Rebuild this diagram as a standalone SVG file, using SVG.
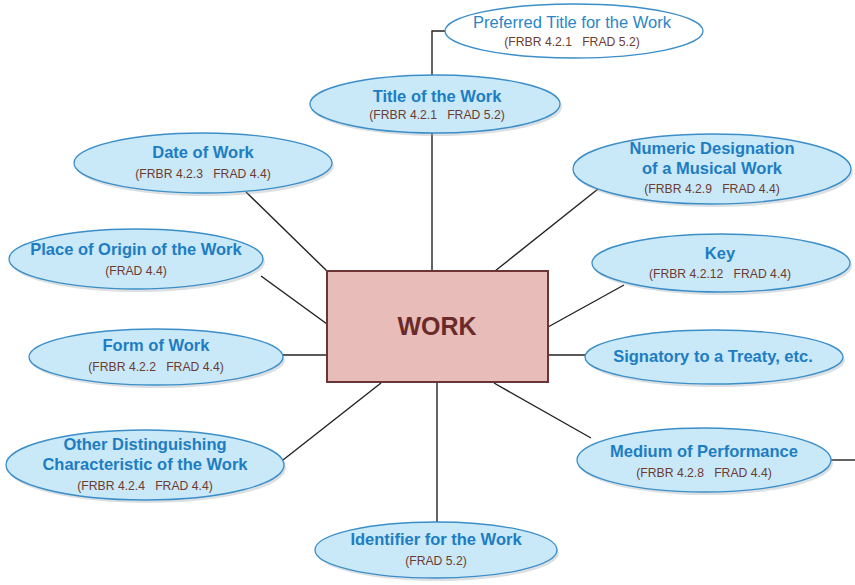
<svg xmlns="http://www.w3.org/2000/svg" width="855" height="585" viewBox="0 0 855 585">
<defs>
<style>
.el{fill:#c9e8f8;stroke:#3b8ec8;stroke-width:1.3}
.sh{fill:#9aa7b0;opacity:0.35}
.t{font-family:"Liberation Sans",Arial,sans-serif;font-size:16.5px;font-weight:bold;fill:#1d7dc2;text-anchor:middle}
.tr{font-family:"Liberation Sans",Arial,sans-serif;font-size:16.5px;fill:#2a86c6;text-anchor:middle}
.s{font-family:"Liberation Sans",Arial,sans-serif;font-size:12.2px;fill:#6e3b30;text-anchor:middle;white-space:pre}
.c{stroke:#222;stroke-width:1.4;fill:none}
</style>
</defs>
<rect width="855" height="585" fill="#fff"/>
<g id="connectors">
<polyline class="c" points="432,76 432,31 446,31"/>
<line class="c" x1="432" y1="133" x2="432" y2="271"/>
<line class="c" x1="246" y1="192" x2="328" y2="272"/>
<line class="c" x1="261" y1="276" x2="327" y2="324"/>
<line class="c" x1="282" y1="355" x2="327" y2="355"/>
<line class="c" x1="283" y1="460" x2="381" y2="383"/>
<line class="c" x1="437" y1="383" x2="437" y2="522"/>
<line class="c" x1="494" y1="383" x2="591" y2="438"/>
<line class="c" x1="548" y1="355" x2="586" y2="355"/>
<line class="c" x1="548" y1="327" x2="624" y2="285"/>
<line class="c" x1="495" y1="271" x2="598" y2="189"/>
<line class="c" x1="831" y1="460" x2="855" y2="460"/>
</g>
<g id="work">
<rect x="327" y="271" width="221" height="111" fill="#e8bcb8" stroke="#6b3535" stroke-width="2"/>
<text x="437" y="335" font-family="Liberation Sans,Arial,sans-serif" font-size="25" font-weight="bold" fill="#6b2a2a" text-anchor="middle">WORK</text>
</g>
<g id="preferred-title">
<ellipse cx="574" cy="31" rx="129" ry="27" fill="#fff" stroke="#3b8ec8" stroke-width="1.3"/>
<text class="tr" x="572" y="28">Preferred Title for the Work</text>
<text class="s" x="572" y="46">(FRBR 4.2.1   FRAD 5.2)</text>
</g>
<g id="title">
<ellipse class="sh" cx="437" cy="107" rx="125" ry="29"/>
<ellipse class="el" cx="435" cy="104" rx="125" ry="29"/>
<text class="t" x="437" y="102">Title of the Work</text>
<text class="s" x="437" y="119">(FRBR 4.2.1   FRAD 5.2)</text>
</g>
<g id="date">
<ellipse class="sh" cx="205" cy="166" rx="129" ry="30"/>
<ellipse class="el" cx="203" cy="163" rx="129" ry="30"/>
<text class="t" x="203" y="158">Date of Work</text>
<text class="s" x="203" y="178">(FRBR 4.2.3   FRAD 4.4)</text>
</g>
<g id="numeric">
<ellipse class="sh" cx="714" cy="172" rx="139" ry="35"/>
<ellipse class="el" cx="712" cy="169" rx="139" ry="35"/>
<text class="t" x="712" y="154">Numeric Designation</text>
<text class="t" x="712" y="174">of a Musical Work</text>
<text class="s" x="712" y="193">(FRBR 4.2.9   FRAD 4.4)</text>
</g>
<g id="place">
<ellipse class="sh" cx="138" cy="262" rx="127" ry="30"/>
<ellipse class="el" cx="136" cy="259" rx="127" ry="30"/>
<text class="t" x="136" y="255">Place of Origin of the Work</text>
<text class="s" x="136" y="275">(FRAD 4.4)</text>
</g>
<g id="key">
<ellipse class="sh" cx="723" cy="266" rx="129" ry="29"/>
<ellipse class="el" cx="721" cy="263" rx="129" ry="29"/>
<text class="t" x="720" y="259">Key</text>
<text class="s" x="720" y="278">(FRBR 4.2.12   FRAD 4.4)</text>
</g>
<g id="form">
<ellipse class="sh" cx="158" cy="360" rx="127" ry="28"/>
<ellipse class="el" cx="156" cy="357" rx="127" ry="28"/>
<text class="t" x="156" y="351">Form of Work</text>
<text class="s" x="156" y="371">(FRBR 4.2.2   FRAD 4.4)</text>
</g>
<g id="signatory">
<ellipse class="sh" cx="716" cy="360" rx="129" ry="27"/>
<ellipse class="el" cx="714" cy="357" rx="129" ry="27"/>
<text class="t" x="713" y="362">Signatory to a Treaty, etc.</text>
</g>
<g id="other">
<ellipse class="sh" cx="147" cy="468" rx="139" ry="35"/>
<ellipse class="el" cx="145" cy="465" rx="139" ry="35"/>
<text class="t" x="145" y="450">Other Distinguishing</text>
<text class="t" x="145" y="470">Characteristic of the Work</text>
<text class="s" x="145" y="490">(FRBR 4.2.4   FRAD 4.4)</text>
</g>
<g id="medium">
<ellipse class="sh" cx="706" cy="463" rx="127" ry="32"/>
<ellipse class="el" cx="704" cy="460" rx="127" ry="32"/>
<text class="t" x="704" y="457">Medium of Performance</text>
<text class="s" x="704" y="477">(FRBR 4.2.8   FRAD 4.4)</text>
</g>
<g id="identifier">
<ellipse class="sh" cx="438" cy="553" rx="121" ry="28"/>
<ellipse class="el" cx="436" cy="550" rx="121" ry="28"/>
<text class="t" x="436" y="545">Identifier for the Work</text>
<text class="s" x="436" y="565">(FRAD 5.2)</text>
</g>
</svg>
